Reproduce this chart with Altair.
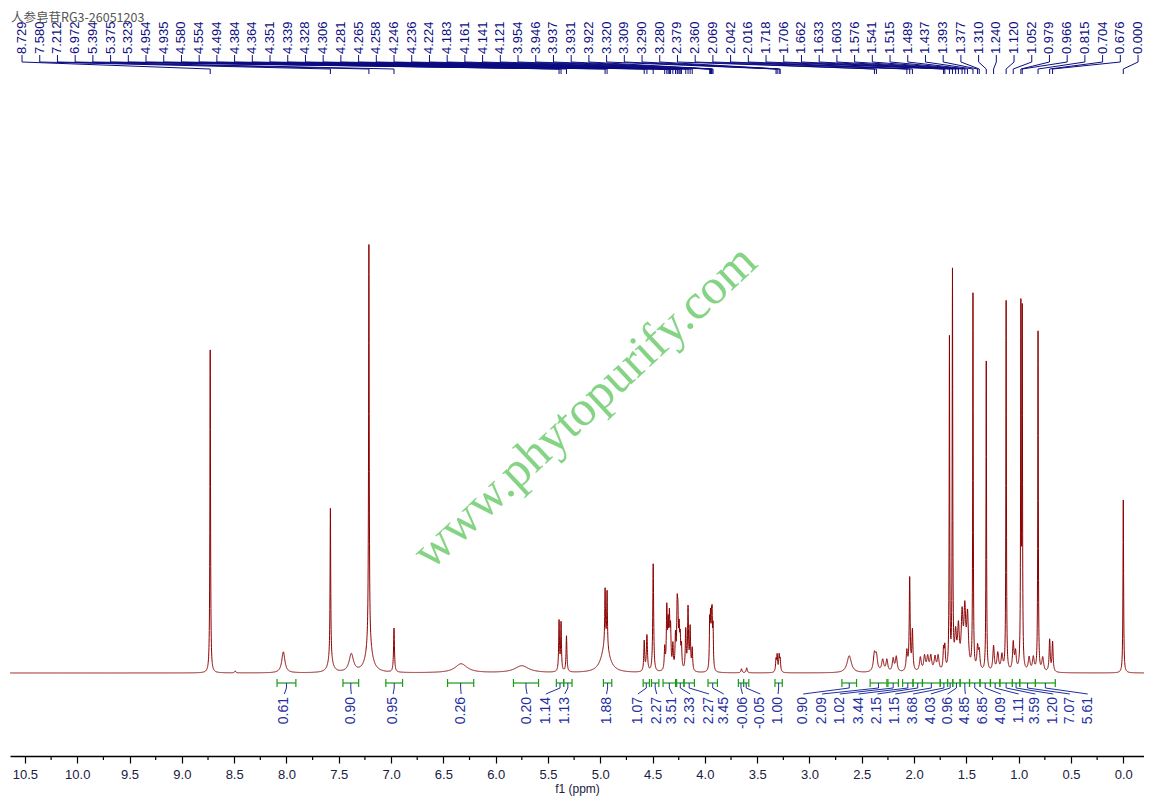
import numpy as np
import pandas as pd
import altair as alt

# ---------------- data ----------------
# spectrum peaks: position (ppm), height (arbitrary units), half width (ppm)
peak_ppm = [8.729, 8.49, 8.03, 7.580, 7.58, 7.38, 7.212, 7.21, 6.972, 6.33, 5.75,
            5.394, 5.375, 5.323, 4.954, 4.935, 4.95, 4.580, 4.554, 4.494,
            4.384, 4.364, 4.351, 4.339, 4.328, 4.306, 4.281, 4.265, 4.258, 4.246,
            4.236, 4.224, 4.183, 4.161, 4.141, 4.121,
            3.954, 3.946, 3.937, 3.931, 3.922, 3.65, 3.60,
            3.320, 3.309, 3.290, 3.280, 2.62, 2.379, 2.360, 2.30, 2.26, 2.20, 2.17,
            2.069, 2.042, 2.016, 1.94, 1.90, 1.87, 1.84, 1.80, 1.77, 1.718, 1.706,
            1.662, 1.633, 1.603, 1.576, 1.541, 1.515, 1.489, 1.437, 1.393, 1.377,
            1.310, 1.240, 1.20, 1.16, 1.120, 1.052, 1.03, 0.979, 0.966, 0.90, 0.86,
            0.815, 0.77, 0.704, 0.676, 0.000]
peak_height = [323, 2, 21, 150, 14, 18, 400, 28, 44, 9, 7,
               50, 48, 36, 55, 55, 28, 30, 36, 108,
               22, 60, 40, 48, 38, 24, 32, 55, 45, 35,
               28, 22, 40, 62, 42, 22,
               45, 45, 40, 45, 40, 4, 5,
               12, 16, 16, 12, 17, 17, 15, 12, 12, 13, 15,
               20, 92, 40, 14, 15, 14, 15, 14, 15, 20, 22,
               330, 395, 34, 40, 52, 56, 52, 375, 22, 18,
               310, 25, 18, 16, 370, 28, 18, 355, 350, 14, 14,
               340, 14, 32, 30, 173]
peak_width = [0.0035, 0.006, 0.018, 0.0035, 0.025, 0.025, 0.0035, 0.035, 0.005, 0.07, 0.08,
              0.0045, 0.0045, 0.005, 0.004, 0.004, 0.045, 0.005, 0.006, 0.005,
              0.005, 0.005, 0.005, 0.005, 0.005, 0.005, 0.005, 0.005, 0.005, 0.005,
              0.005, 0.005, 0.005, 0.005, 0.005, 0.005,
              0.004, 0.004, 0.004, 0.004, 0.004, 0.006, 0.006,
              0.005, 0.005, 0.005, 0.005, 0.025, 0.012, 0.012, 0.012, 0.01, 0.01, 0.01,
              0.008, 0.005, 0.006, 0.01, 0.01, 0.01, 0.01, 0.01, 0.01, 0.006, 0.006,
              0.003, 0.003, 0.01, 0.01, 0.01, 0.01, 0.01, 0.003, 0.008, 0.008,
              0.003, 0.008, 0.01, 0.01, 0.003, 0.008, 0.008, 0.003, 0.003, 0.01, 0.01,
              0.003, 0.01, 0.006, 0.006, 0.0035]

# peak-pick labels (top)
pick_labels = [8.729, 7.580, 7.212, 6.972, 5.394, 5.375, 5.323, 4.954, 4.935, 4.580,
               4.554, 4.494, 4.384, 4.364, 4.351, 4.339, 4.328, 4.306, 4.281, 4.265,
               4.258, 4.246, 4.236, 4.224, 4.183, 4.161, 4.141, 4.121, 3.954, 3.946,
               3.937, 3.931, 3.922, 3.320, 3.309, 3.290, 3.280, 2.379, 2.360, 2.069,
               2.042, 2.016, 1.718, 1.706, 1.662, 1.633, 1.603, 1.576, 1.541, 1.515,
               1.489, 1.437, 1.393, 1.377, 1.310, 1.240, 1.120, 1.052, 0.979, 0.966,
               0.815, 0.704, 0.676, 0.000]

# integrals: start, end (ppm), value, label position (ppm)
int_start = [8.09, 7.46, 7.05, 6.46, 5.83, 5.42, 5.35, 4.97, 4.59, 4.51, 4.40, 4.27,
             4.20, 3.97, 3.68, 3.63, 3.33,
             2.69, 2.42, 2.25, 2.11, 2.01, 1.92, 1.75, 1.68, 1.63, 1.56, 1.47, 1.37,
             1.27, 1.18, 1.06, 0.99, 0.84]
int_end = [7.91, 7.31, 6.89, 6.21, 5.59, 5.35, 5.27, 4.89, 4.53, 4.44, 4.28, 4.20,
           4.10, 3.88, 3.63, 3.58, 3.26,
           2.55, 2.26, 2.15, 2.01, 1.92, 1.75, 1.68, 1.63, 1.56, 1.47, 1.37, 1.27,
           1.18, 1.06, 0.99, 0.84, 0.65]
int_value = ["0.61", "0.90", "0.95", "0.26", "0.20", "1.14", "1.13", "1.88", "1.07",
             "2.27", "3.51", "2.33", "2.27", "3.45", "-0.06", "-0.05", "1.00",
             "0.90", "2.09", "1.02", "3.44", "2.15", "1.15", "3.68", "4.03", "0.96",
             "4.85", "6.85", "4.09", "1.11", "3.59", "1.20", "7.07", "5.61"]
int_label_ppm = [8.02, 7.38, 6.98, 6.33, 5.70, 5.52, 5.34, 4.94, 4.64, 4.46, 4.31, 4.14,
                 3.96, 3.82, 3.64, 3.47, 3.30,
                 3.06, 2.88, 2.71, 2.53, 2.35, 2.18, 2.01, 1.84, 1.68, 1.51, 1.34,
                 1.17, 1.00, 0.84, 0.67, 0.51, 0.34]

axis_ticks = [i * 0.5 for i in range(22)]
minor_ticks = [0.25 + i * 0.5 for i in range(21)]

title_text = "人参皂苷RG3-26051203"
watermark = "www.phytopurify.com"

# ---------------- layout ----------------
X_MIN, X_MAX = -0.198, 10.643
W, H = 1134, 736
Y_MIN, Y_MAX = -83, 653
LINE_C = "#8B0000"
NAVY = "#0d0d80"
BLUE = "#1f2f9f"
GREEN = "#1a9a1a"

# spectrum curve: sum of Lorentzian lines at the peaks read above
grid = np.round(np.arange(X_MIN, X_MAX, 0.001), 4)
grid = np.unique(np.concatenate([grid, np.array(peak_ppm)]))
p = np.array(peak_ppm)[:, None]
h = np.array(peak_height, dtype=float)[:, None]
w = np.array(peak_width)[:, None]
inten = (h / (1.0 + ((grid[None, :] - p) / w) ** 2)).sum(axis=0)
spec = pd.DataFrame({"ppm": grid, "I": np.round(inten, 2)})

xscale = alt.Scale(domain=[X_MIN, X_MAX], reverse=True, nice=False, zero=False)
yscale = alt.Scale(domain=[Y_MIN, Y_MAX], nice=False, zero=False)
xaxis = alt.Axis(values=axis_ticks, format=".1f", title="f1 (ppm)",
                 grid=False, domainColor="#000000", domainWidth=1.5,
                 tickColor="#000000", tickSize=7, tickWidth=1.2,
                 labelFont="Liberation Sans", labelFontSize=13,
                 labelColor="#202040", labelPadding=5,
                 titleFont="Liberation Sans", titleFontSize=12,
                 titleFontWeight="normal", titleColor="#202040",
                 titlePadding=2, labelFlush=False)


def X(f):
    return alt.X(f, scale=xscale, axis=xaxis, title="f1 (ppm)")


line = alt.Chart(spec).mark_line(color=LINE_C, strokeWidth=1, clip=True).encode(
    x=X("ppm:Q"),
    y=alt.Y("I:Q", scale=yscale, axis=None),
)

minor = alt.Chart(pd.DataFrame({"t": minor_ticks})).mark_rule(
    color="#000000", strokeWidth=1.2).encode(
    x=X("t:Q"), y=alt.value(H), y2=alt.value(H + 4))

# peak pick labels
n = len(pick_labels)
lab_pos = np.linspace(10.528, -0.141, n)
pk = pd.DataFrame({"lx": lab_pos, "px": pick_labels,
                   "txt": [f"{v:.3f}" for v in pick_labels]})
pk_text = alt.Chart(pk).mark_text(angle=270, align="left", baseline="middle",
                                  font="Liberation Sans", fontSize=13,
                                  color=NAVY).encode(
    x=X("lx:Q"), y=alt.value(34), text="txt:N")
pk_r1 = alt.Chart(pk).mark_rule(color=NAVY, strokeWidth=1).encode(
    x=X("lx:Q"), y=alt.value(35), y2=alt.value(42))
pk_r2 = alt.Chart(pk).mark_rule(color=NAVY, strokeWidth=1).encode(
    x=X("lx:Q"), x2="px:Q", y=alt.value(42), y2=alt.value(49))
pk_r3 = alt.Chart(pk).mark_rule(color=NAVY, strokeWidth=1).encode(
    x=X("px:Q"), y=alt.value(49), y2=alt.value(54))

# integrals
it = pd.DataFrame({"s": int_start, "e": int_end, "v": int_value,
                   "lp": int_label_ppm,
                   "c": [(a + b) / 2 for a, b in zip(int_start, int_end)]})
it_bar = alt.Chart(it).mark_rule(color=GREEN, strokeWidth=1.2).encode(
    x=X("s:Q"), x2="e:Q", y=alt.value(663))
it_cap1 = alt.Chart(it).mark_rule(color=GREEN, strokeWidth=1.2).encode(
    x=X("s:Q"), y=alt.value(659), y2=alt.value(667))
it_cap2 = alt.Chart(it).mark_rule(color=GREEN, strokeWidth=1.2).encode(
    x=X("e:Q"), y=alt.value(659), y2=alt.value(667))
it_stub = alt.Chart(it).mark_rule(color=BLUE, strokeWidth=1).encode(
    x=X("c:Q"), y=alt.value(663), y2=alt.value(668))
it_lead = alt.Chart(it).mark_rule(color=BLUE, strokeWidth=1).encode(
    x=X("c:Q"), x2="lp:Q", y=alt.value(668), y2=alt.value(674))
it_text = alt.Chart(it).mark_text(angle=270, align="right", baseline="middle",
                                  font="Liberation Sans", fontSize=14,
                                  color=BLUE).encode(
    x=X("lp:Q"), y=alt.value(677), text="v:N")

# sample title and watermark
ttl = alt.Chart(pd.DataFrame({"t": [title_text]})).mark_text(
    align="left", baseline="middle", font="Noto Sans CJK SC", fontSize=12.5,
    color="#555555").encode(x=alt.value(1), y=alt.value(-2), text="t:N")
wm = alt.Chart(pd.DataFrame({"t": [watermark], "x": [5.146], "y": [266]})).mark_text(
    angle=317, align="center", baseline="middle", font="Liberation Serif",
    fontSize=50, color="#7fd27f", opacity=0.95).encode(
    x=X("x:Q"), y=alt.Y("y:Q", scale=yscale, axis=None), text="t:N")

chart = alt.layer(line, minor, wm, it_bar, it_cap1, it_cap2, it_stub, it_lead, it_text,
                  pk_r1, pk_r2, pk_r3, pk_text, ttl).properties(
    width=W, height=H,
    autosize=alt.AutoSizeParams(type="none"),
    padding={"left": 2, "top": 12, "right": 0, "bottom": 40},
).configure_view(stroke=None)

chart.save("out.html", embed_options={"renderer": "svg", "actions": False})
